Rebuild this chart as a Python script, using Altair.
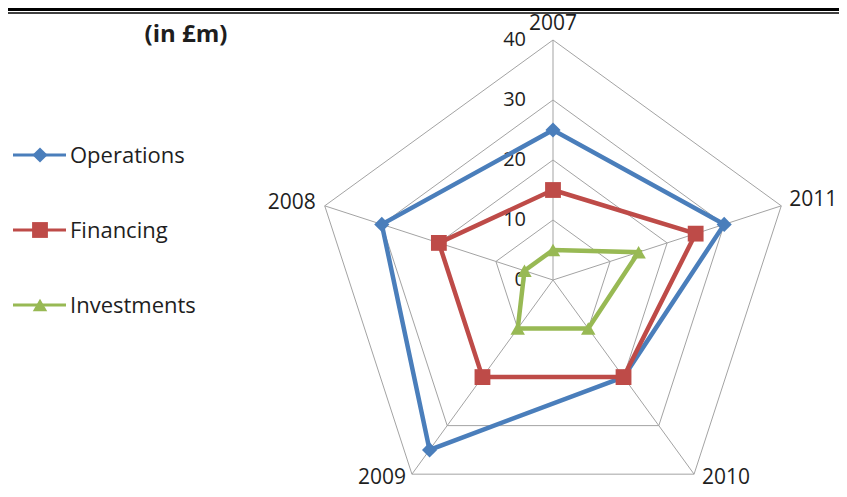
import altair as alt
import pandas as pd

# ---- data ----
years = ["2007", "2008", "2009", "2010", "2011"]
operations = [25, 30, 35, 20, 30]
financing = [15, 20, 20, 20, 25]
investments = [5, 5, 10, 10, 15]
series_names = ["Operations", "Financing", "Investments"]
series_values = [operations, financing, investments]
series_colors = ["#4A7EBB", "#BE4B48", "#98B954"]
series_shapes = ["diamond", "square", "triangle-up"]
marker_sizes = [230, 250, 210]
tick_values = [0, 10, 20, 30, 40]
ring_values = [10, 20, 30, 40]
title_text = "(in £m)"

# ---- layout ----
W, H = 831, 481
PX = 6.0  # pixels per unit
CX, CY = 545, 272  # centre in plot pixels
xmin = -CX / PX
xmax = xmin + W / PX
ymax = CY / PX
ymin = ymax - H / PX
sx = alt.Scale(domain=[xmin, xmax], nice=False, zero=False)
sy = alt.Scale(domain=[ymin, ymax], nice=False, zero=False)
FONT = "Open Sans"
GRID = "#a3a3a3"
TXT = "#1e1e1e"

ANG = "((5 - datum.idx) % 5) * 2 * PI / 5"


def polar(chart, rfield, xname="x", yname="y"):
    return chart.transform_calculate(theta=ANG).transform_calculate(
        **{xname: f"datum.{rfield} * sin(datum.theta)",
           yname: f"datum.{rfield} * cos(datum.theta)"}
    )


X = lambda f: alt.X(f"{f}:Q", scale=sx, axis=None)
Y = lambda f: alt.Y(f"{f}:Q", scale=sy, axis=None)

layers = []

# grid rings
ring_df = pd.DataFrame([{"ring": r, "idx": i} for r in ring_values for i in range(len(years))])
rings = polar(alt.Chart(ring_df), "ring").mark_line(
    interpolate="linear-closed", color=GRID, strokeWidth=1
).encode(x=X("x"), y=Y("y"), detail="ring:N", order="idx:Q")
layers.append(rings)

# spokes
spoke_df = pd.DataFrame({"idx": list(range(len(years))), "r": [max(tick_values)] * len(years), "zero": [0] * len(years)})
spokes = polar(alt.Chart(spoke_df), "r").mark_rule(color=GRID, strokeWidth=1).encode(
    x=X("zero"), y=Y("zero"), x2="x:Q", y2="y:Q"
)
layers.append(spokes)

# tick labels
tick_df = pd.DataFrame({"tick": tick_values})
ticks = alt.Chart(tick_df).mark_text(
    align="right", baseline="middle", font=FONT, fontSize=20, color=TXT
).encode(x=alt.value(CX - 27), y=Y("tick"), text="tick:Q")
layers.append(ticks)

# category labels
label_styles = {
    "2007": dict(align="center", baseline="top", dx=0, dy=-27),
    "2008": dict(align="right", baseline="middle", dx=-9, dy=-3),
    "2009": dict(align="right", baseline="bottom", dx=-6, dy=14),
    "2010": dict(align="left", baseline="bottom", dx=8, dy=14),
    "2011": dict(align="left", baseline="middle", dx=8, dy=-6),
}
for i, yr in enumerate(years):
    df = pd.DataFrame({"year": [yr], "idx": [i], "r": [max(tick_values)]})
    st = label_styles[yr]
    lab = polar(alt.Chart(df), "r").mark_text(
        font=FONT, fontSize=21, color=TXT, **st
    ).encode(x=X("x"), y=Y("y"), text="year:N")
    layers.append(lab)

# series
for name, vals, col, shp, ms in zip(series_names, series_values, series_colors, series_shapes, marker_sizes):
    df = pd.DataFrame({"series": name, "year": years, "idx": list(range(len(years))), "value": vals})
    base = polar(alt.Chart(df), "value")
    line = base.mark_line(interpolate="linear-closed", color=col, strokeWidth=4.5).encode(
        x=X("x"), y=Y("y"), order="idx:Q"
    )
    pts = base.mark_point(shape=shp, filled=True, color=col, size=ms, opacity=1).encode(
        x=X("x"), y=Y("y")
    )
    layers += [line, pts]

# legend (manual, Excel style)
one = pd.DataFrame({"a": [0]})
for k, (name, col, shp, ms) in enumerate(zip(series_names, series_colors, series_shapes, marker_sizes)):
    ly = 147 + 75 * k
    layers.append(alt.Chart(one).mark_rule(color=col, strokeWidth=3).encode(
        x=alt.value(5), x2=alt.value(58), y=alt.value(ly)))
    layers.append(alt.Chart(one).mark_point(shape=shp, filled=True, color=col, size=ms, opacity=1).encode(
        x=alt.value(32), y=alt.value(ly)))
    layers.append(alt.Chart(one).mark_text(
        text=name, align="left", baseline="middle", font=FONT, fontSize=22, color=TXT
    ).encode(x=alt.value(62), y=alt.value(ly + 1)))

# title
layers.append(alt.Chart(one).mark_text(
    text=title_text, align="center", baseline="middle", font=FONT, fontSize=24, fontWeight="bold", color=TXT
).encode(x=alt.value(178), y=alt.value(27)))

# top double border
layers.append(alt.Chart(one).mark_rect(color="black").encode(
    x=alt.value(0), x2=alt.value(W), y=alt.value(0), y2=alt.value(3)))
layers.append(alt.Chart(one).mark_rule(color="black", strokeWidth=1.5).encode(
    x=alt.value(0), x2=alt.value(W), y=alt.value(5)))

chart = alt.layer(*layers).properties(
    width=W, height=H, padding=0, autosize=alt.AutoSizeParams(type="none"), background="white"
).configure_view(stroke=None)

chart.save("out.html", embed_options={"renderer": "svg", "actions": False})
